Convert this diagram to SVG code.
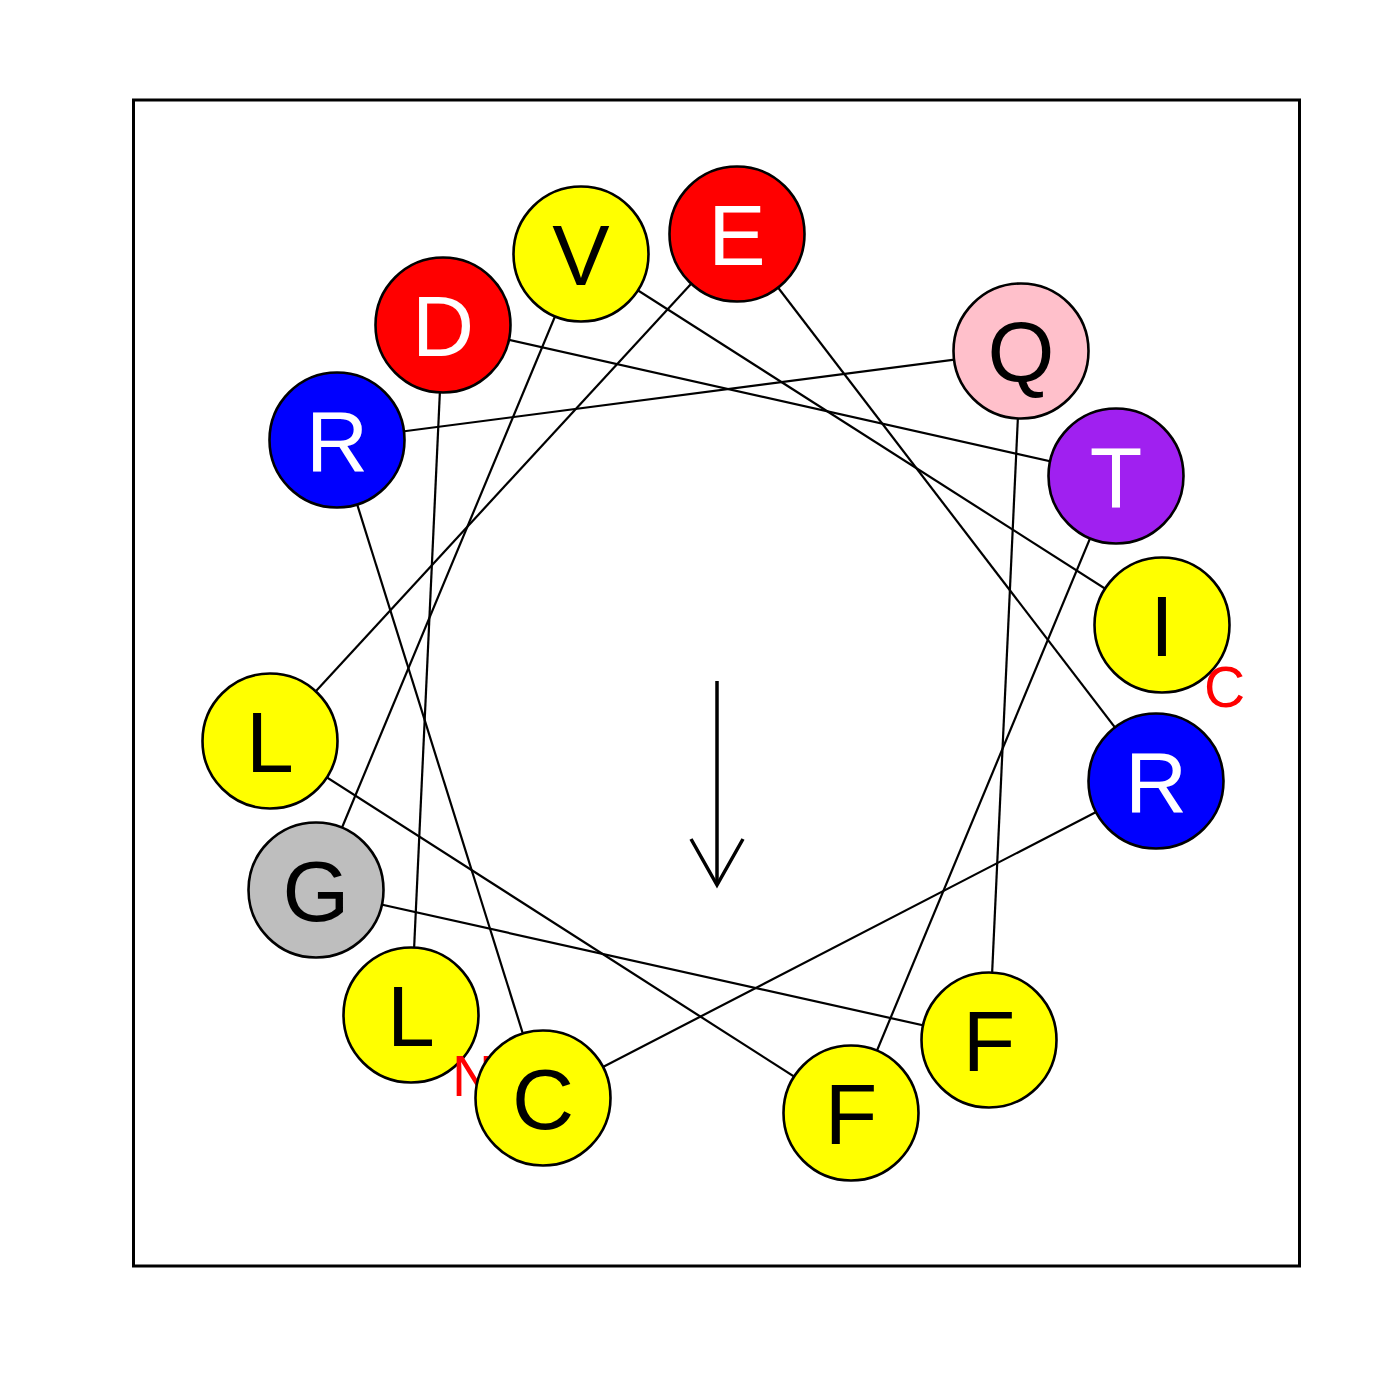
<svg xmlns="http://www.w3.org/2000/svg" width="1400" height="1400" viewBox="0 0 1400 1400">
<style>
.bg{fill:#ffffff}
.frame{fill:none;stroke:#000;stroke-width:3}
.link{stroke:#000;stroke-width:2.2;fill:none}
.res{stroke:#000;stroke-width:2.6}
.lbl{font-family:"Liberation Sans",Arial,sans-serif;font-size:86px;text-anchor:middle}
.dk{fill:#000}
.lt{fill:#fff}
.term{font-family:"Liberation Sans",Arial,sans-serif;font-size:57px;fill:#ff0000}
.arrow{stroke:#000;stroke-width:3.5;fill:none}
</style>
<rect class="bg" x="0" y="0" width="1400" height="1400"/>
<rect class="frame" x="133.5" y="100" width="1166" height="1166"/>
<g id="connectors">
<line class="link" x1="411" y1="1015" x2="443" y2="325"/>
<line class="link" x1="443" y1="325" x2="1116" y2="476"/>
<line class="link" x1="1116" y1="476" x2="851" y2="1113"/>
<line class="link" x1="851" y1="1113" x2="270" y2="741"/>
<line class="link" x1="270" y1="741" x2="737" y2="234"/>
<line class="link" x1="737" y1="234" x2="1156" y2="781"/>
<line class="link" x1="1156" y1="781" x2="543" y2="1098"/>
<line class="link" x1="543" y1="1098" x2="337" y2="440"/>
<line class="link" x1="337" y1="440" x2="1021" y2="351"/>
<line class="link" x1="1021" y1="351" x2="989" y2="1040"/>
<line class="link" x1="989" y1="1040" x2="316" y2="890"/>
<line class="link" x1="316" y1="890" x2="581" y2="254"/>
<line class="link" x1="581" y1="254" x2="1162" y2="625"/>
</g>
<g id="res1"><circle class="res" cx="411" cy="1015" r="67.5" fill="#ffff00"/><text class="lbl dk" x="411" y="1046">L</text></g>
<g id="label-N"><text class="term" x="452" y="1096">N</text></g>
<g id="res2"><circle class="res" cx="443" cy="325" r="67.5" fill="#ff0000"/><text class="lbl lt" x="443" y="356">D</text></g>
<g id="res3"><circle class="res" cx="1116" cy="476" r="67.5" fill="#a020f0"/><text class="lbl lt" x="1116" y="507">T</text></g>
<g id="res4"><circle class="res" cx="851" cy="1113" r="67.5" fill="#ffff00"/><text class="lbl dk" x="851" y="1144">F</text></g>
<g id="res5"><circle class="res" cx="270" cy="741" r="67.5" fill="#ffff00"/><text class="lbl dk" x="270" y="772">L</text></g>
<g id="res6"><circle class="res" cx="737" cy="234" r="67.5" fill="#ff0000"/><text class="lbl lt" x="737" y="265">E</text></g>
<g id="res7"><circle class="res" cx="1156" cy="781" r="67.5" fill="#0000ff"/><text class="lbl lt" x="1156" y="812">R</text></g>
<g id="res8"><circle class="res" cx="543" cy="1098" r="67.5" fill="#ffff00"/><text class="lbl dk" x="543" y="1129">C</text></g>
<g id="res9"><circle class="res" cx="337" cy="440" r="67.5" fill="#0000ff"/><text class="lbl lt" x="337" y="471">R</text></g>
<g id="res10"><circle class="res" cx="1021" cy="351" r="67.5" fill="#ffc0cb"/><text class="lbl dk" x="1021" y="382">Q</text></g>
<g id="res11"><circle class="res" cx="989" cy="1040" r="67.5" fill="#ffff00"/><text class="lbl dk" x="989" y="1071">F</text></g>
<g id="res12"><circle class="res" cx="316" cy="890" r="67.5" fill="#bebebe"/><text class="lbl dk" x="316" y="921">G</text></g>
<g id="res13"><circle class="res" cx="581" cy="254" r="67.5" fill="#ffff00"/><text class="lbl dk" x="581" y="285">V</text></g>
<g id="res14"><circle class="res" cx="1162" cy="625" r="67.5" fill="#ffff00"/><text class="lbl dk" x="1162" y="656">I</text></g>
<g id="label-C"><text class="term" x="1204" y="707">C</text></g>
<g id="moment-arrow">
<line class="arrow" x1="717" y1="681" x2="717" y2="885"/>
<polyline class="arrow" points="691,839 717,885 743,839"/>
</g>
</svg>
